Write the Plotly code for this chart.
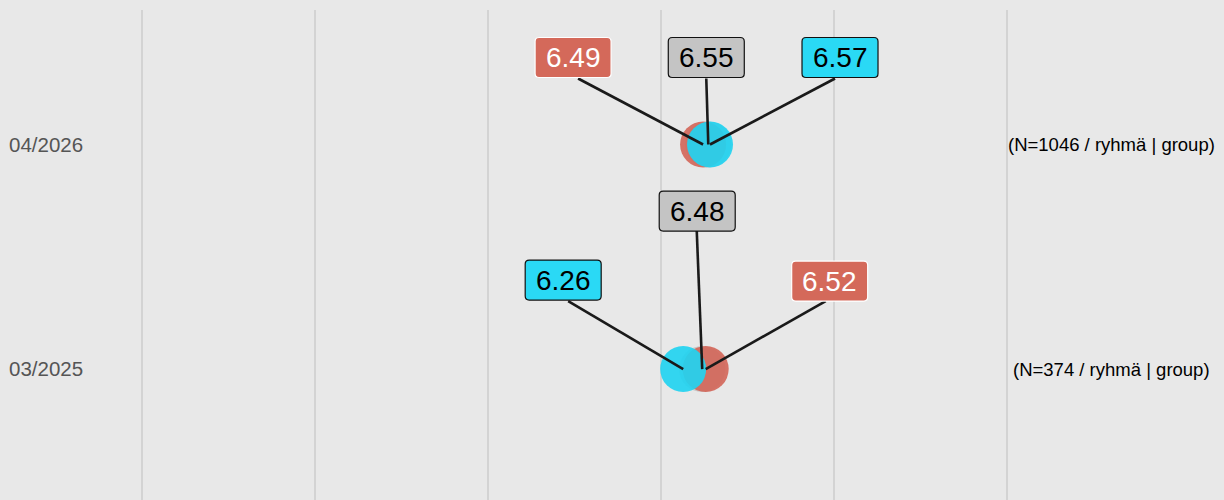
import plotly.graph_objects as go

# ---- data ----
periods = ["03/2025", "04/2026"]
period_pos = [0, 1]
overall = [6.48, 6.55]      # gray
group_a = [6.52, 6.49]      # red
group_b = [6.26, 6.57]      # cyan
n_labels = ["(N=374 / ryhmä | group)", "(N=1046 / ryhmä | group)"]
grid_ticks = [0, 2, 4, 6, 8, 10]

# ---- style ----
BG = "#E8E8E8"
GRID = "#D3D3D3"
RED = "#D4695A"
CYAN = "#2AD9F5"
GRAYLBL = "#C4C4C4"
MARKER_COLORS = {"overall": "#C4C4C4", "group A": "#D2675A", "group B": "#22D3F0"}
FONT = "Liberation Sans, Arial, Helvetica, sans-serif"
BOX_W, BOX_H, BOX_R = 76, 40, 4

fig = go.Figure()
series = [
    ("overall", overall),
    ("group A", group_a),
    ("group B", group_b),
]
for name, vals in series:
    fig.add_trace(go.Scatter(
        x=vals, y=period_pos, mode="markers", name=name,
        marker=dict(size=46, color=MARKER_COLORS[name], opacity=0.92,
                    line=dict(width=0)),
        showlegend=False, hoverinfo="x+name",
    ))

# label box centre offsets (pixels, screen: +y is down) per series per row
offsets = {
    "overall": [(-5, -158), (-2, -87)],
    "group A": [(124, -88), (-130, -87)],
    "group B": [(-120, -89), (130, -87)],
}
# connector start offsets (pixels, screen) per series per row
tails = {
    "overall": [(-5.5, -139), (-2, -66)],
    "group A": [(120, -68), (-125, -66)],
    "group B": [(-115, -68), (125, -66)],
}
label_style = {
    "overall": dict(bgcolor=GRAYLBL, bordercolor="#111111", fc="#000000"),
    "group A": dict(bgcolor=RED, bordercolor="#FFFFFF", fc="#FFFFFF"),
    "group B": dict(bgcolor=CYAN, bordercolor="#111111", fc="#000000"),
}


def rounded_box(cx, cy, w, h, r):
    L, R = cx - w / 2, cx + w / 2
    B, T = cy - h / 2, cy + h / 2
    return (f"M {L + r},{T} L {R - r},{T} Q {R},{T} {R},{T - r} "
            f"L {R},{B + r} Q {R},{B} {R - r},{B} L {L + r},{B} "
            f"Q {L},{B} {L},{B + r} L {L},{T - r} Q {L},{T} {L + r},{T} Z")


# connectors first (below the label boxes)
for name, vals in series:
    for i, v in enumerate(vals):
        tx, ty = tails[name][i]
        fig.add_shape(
            type="line", xref="x", yref="y",
            xsizemode="pixel", ysizemode="pixel",
            xanchor=v, yanchor=period_pos[i],
            x0=0, y0=0, x1=tx, y1=-ty,
            line=dict(color="#1A1A1A", width=2.6),
            layer="above",
        )

for name, vals in series:
    st = label_style[name]
    for i, v in enumerate(vals):
        ax, ay = offsets[name][i]
        fig.add_shape(
            type="path", xref="x", yref="y",
            xsizemode="pixel", ysizemode="pixel",
            xanchor=v, yanchor=period_pos[i],
            path=rounded_box(ax, -ay, BOX_W, BOX_H, BOX_R),
            fillcolor=st["bgcolor"],
            line=dict(color=st["bordercolor"], width=1.2),
            layer="above",
        )
        fig.add_annotation(
            x=v, y=period_pos[i], xref="x", yref="y",
            text=f"{v:.2f}", showarrow=False,
            xanchor="center", yanchor="middle",
            xshift=ax, yshift=-ay,
            font=dict(family=FONT, size=28, color=st["fc"]),
        )

for i, t in enumerate(n_labels):
    fig.add_annotation(
        x=11.206, y=period_pos[i], xref="x", yref="y", text=t,
        showarrow=False, xanchor="center", yanchor="middle",
        font=dict(family=FONT, size=18.5, color="#000000"),
    )

fig.update_xaxes(
    range=[-1.638, 12.512], tickvals=grid_ticks, showticklabels=False,
    showgrid=True, gridcolor=GRID, gridwidth=2, zeroline=False,
    showline=False, ticks="",
)
fig.update_yaxes(
    range=[-0.583, 1.599], tickvals=period_pos, ticktext=periods,
    ticklabelposition="inside", ticklabelstandoff=6, ticks="",
    showgrid=False, zeroline=False, showline=False,
    tickfont=dict(family=FONT, size=20.5, color="#555555"),
)
fig.update_layout(
    width=1224, height=500,
    margin=dict(l=0, r=0, t=10, b=0),
    paper_bgcolor=BG, plot_bgcolor=BG,
    font=dict(family=FONT),
    showlegend=False,
)
fig.write_html("out.html", config={"displayModeBar": False},
               post_script="document.body.style.margin='0px';")
